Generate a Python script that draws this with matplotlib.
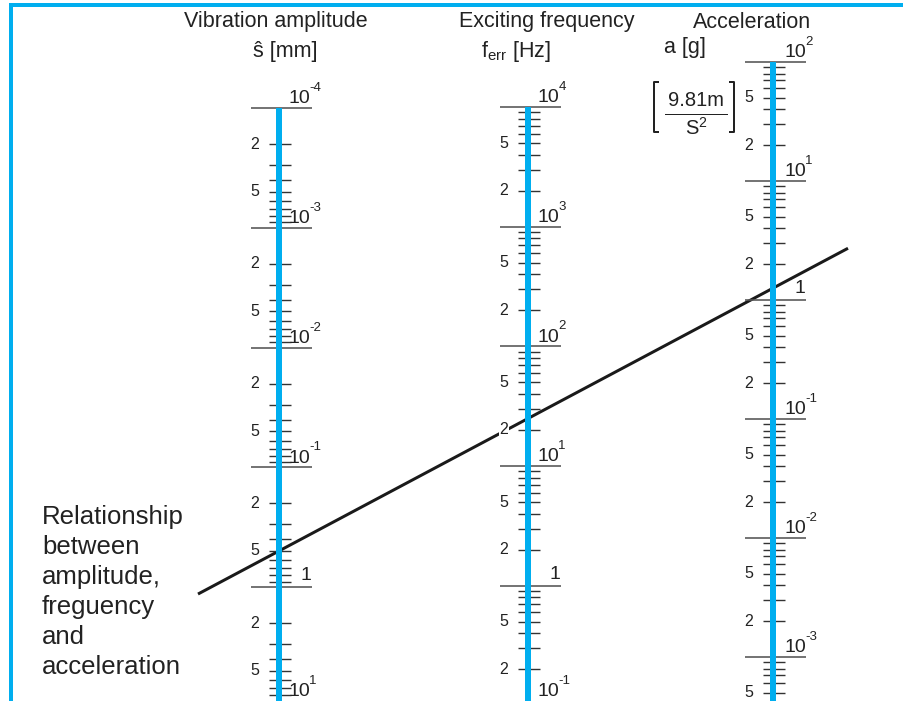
import numpy as np
import matplotlib
matplotlib.use("Agg")
import matplotlib.pyplot as plt

plt.rcParams['font.family'] = ['Liberation Sans', 'DejaVu Sans']
plt.rcParams['mathtext.fontset'] = 'custom'
plt.rcParams['mathtext.rm'] = 'Liberation Sans'
plt.rcParams['mathtext.it'] = 'Liberation Sans:italic'
plt.rcParams['mathtext.bf'] = 'Liberation Sans:bold'

# ---------------- data ----------------
amp_decade_exp = [-4, -3, -2, -1, 0, 1]          # vibration amplitude s [mm]
freq_decade_exp = [-1, 0, 1, 2, 3, 4]            # exciting frequency f_err [Hz]
acc_decade_exp = [-4, -3, -2, -1, 0, 1, 2]       # acceleration a [g]
minor_mults = [2, 3, 4, 5, 6, 7, 8, 9]
labelled_mults = [2, 5]
example_amplitude_mm = 0.5
example_frequency_hz = 25.0
g = 9.81
example_accel_g = (2 * np.pi * example_frequency_hz) ** 2 * example_amplitude_mm * 1e-3 / g

titles = ["Vibration amplitude", "Exciting frequency", "Acceleration"]
left_note = "Relationship\nbetween\namplitude,\nfreguency\nand\nacceleration"

# ---------------- style ----------------
BLUE = '#00AEEF'
GREY = '#555555'
TXT = '#222222'
W, H = 904, 701
PT = 0.72  # points per pixel at dpi 100

fig = plt.figure(figsize=(W / 100, H / 100), dpi=100)
bg = fig.add_axes([0, 0, 1, 1])
bg.set_xlim(0, W)
bg.set_ylim(H, 0)
bg.axis('off')

# border
bg.plot([11.5, 11.5], [3, H], color=BLUE, lw=4 * PT, solid_capstyle='butt')
bg.plot([10, W], [4.5, 4.5], color=BLUE, lw=4 * PT, solid_capstyle='butt')


def make_scale(cx, ref_exp, ref_y, decade_px, increasing_down, top_val,
               decade_exps, label_pos):
    ax = fig.add_axes([(cx - 40) / W, 0, 80 / W, 1])
    ax.set_yscale('log')
    ax.set_xlim(-40, 40)
    sign = 1 if increasing_down else -1

    def val(y):
        return 10 ** (ref_exp + sign * (y - ref_y) / decade_px)

    ax.set_ylim(val(H), val(0))
    ax.axis('off')
    lo, hi = sorted([val(H), top_val])
    # blue bar
    ax.plot([0, 0], [top_val, val(H)], color=BLUE, lw=6 * PT,
            solid_capstyle='butt', zorder=2)
    # minor ticks
    mins = [m * 10.0 ** e for e in decade_exps for m in minor_mults]
    mins = [v for v in mins if lo <= v <= hi]
    ax.hlines(mins, -10, 12, color='#333333', lw=1.4 * PT, zorder=1)
    for e in decade_exps:
        for m in labelled_mults:
            v = m * 10.0 ** e
            if lo <= v <= hi:
                ax.text(-24, v, str(m), ha='center', va='center', fontsize=11.5,
                        color=TXT, zorder=3,
                        bbox=dict(boxstyle='square,pad=0.05', fc='white', ec='none'))
    # major lines
    majors = [10.0 ** e for e in decade_exps if lo <= 10.0 ** e <= hi]
    ax.hlines(majors, -28, 33, color=GREY, lw=1.6 * PT, zorder=1)
    for e in decade_exps:
        v = 10.0 ** e
        if not (lo * 0.9 <= v <= hi * 1.25):
            continue
        if lo <= v <= hi:
            xy, coords = (label_pos, v), 'data'
        else:  # decade just below the bottom edge: keep its label visible
            xy, coords = (label_pos, 0.0), ('data', 'axes fraction')
        if e == 0:
            ax.annotate('1', (27, v), xytext=(0, 2), textcoords='offset points',
                        ha='center', va='bottom', fontsize=14, color=TXT)
        else:
            ax.annotate('10', xy, xycoords=coords, xytext=(0, 0.5),
                        textcoords='offset points', ha='left', va='bottom',
                        fontsize=14, color=TXT)
            ax.annotate(str(e), xy, xycoords=coords, xytext=(14.6, 10),
                        textcoords='offset points', ha='left', va='bottom',
                        fontsize=9.5, color=TXT)
    return ax


ax_amp = make_scale(279, -4, 108, 119.75, True, 10.0 ** -4, amp_decade_exp, 10)
ax_freq = make_scale(528, 4, 107, 119.67, False, 10.0 ** 4, freq_decade_exp, 10)
ax_acc = make_scale(773, 2, 62, 119.0, False, 10.0 ** 2, acc_decade_exp, 12)

# example line through amplitude and acceleration points
inv = bg.transData.inverted()
p1 = inv.transform(ax_amp.transData.transform((0, example_amplitude_mm)))
p2 = inv.transform(ax_acc.transData.transform((0, example_accel_g)))
slope = (p2[1] - p1[1]) / (p2[0] - p1[0])
xs = np.array([198, 848])
ys = p1[1] + slope * (xs - p1[0])
bg.plot(xs, ys, color='#1a1a1a', lw=3 * PT, zorder=2.5, solid_capstyle='butt')

# titles
tkw = dict(ha='center', va='center', fontsize=15.5, color=TXT)
bg.text(276, 22, titles[0], **tkw)
bg.text(547, 22, titles[1], **tkw)
bg.text(752, 22, titles[2], **tkw)
bg.text(285, 52, 'ŝ [mm]', **tkw)
bg.text(516, 52, r'f$_{\mathrm{err}}$ [Hz]', **tkw)
bg.text(685, 47, 'a [g]', **tkw)

# unit box
bk = dict(color=TXT, lw=2 * PT, solid_capstyle='butt')
bg.plot([659, 654, 654, 659], [82, 82, 132, 132], **bk)
bg.plot([729, 734, 734, 729], [82, 82, 132, 132], **bk)
bg.plot([665, 727], [113.5, 113.5], color=TXT, lw=1 * PT)
bg.text(696, 100, '9.81m', ha='center', va='center', fontsize=14.5, color=TXT)
bg.text(696, 128, 'S$^{2}$', ha='center', va='center', fontsize=14.5, color=TXT)

# left note
bg.text(42, 505, left_note, ha='left', va='top', fontsize=18.5, color=TXT,
        linespacing=1.32)

fig.savefig('out.png', dpi=100)
